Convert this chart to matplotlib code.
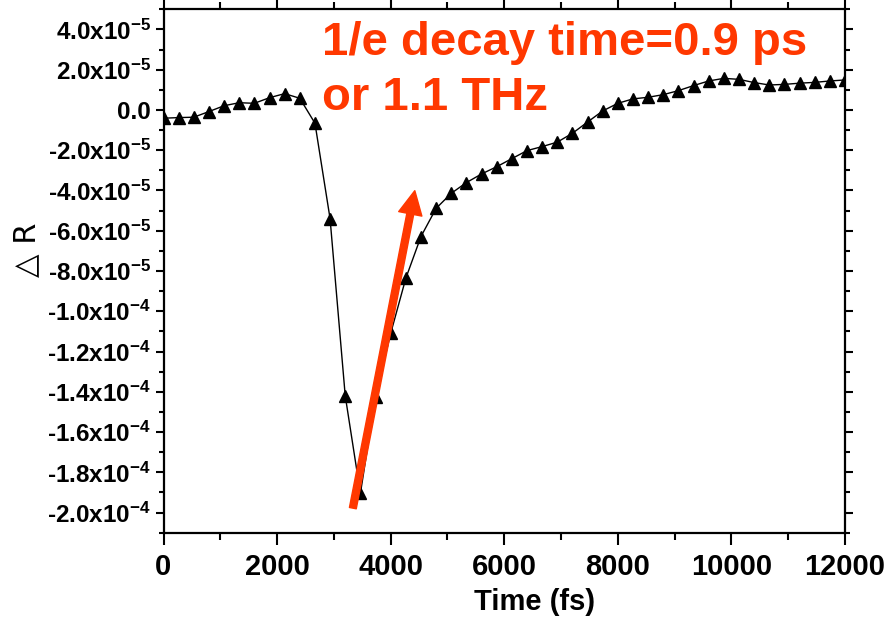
import matplotlib
matplotlib.use("Agg")
import matplotlib.pyplot as plt
from matplotlib.ticker import MultipleLocator

# Pump-probe transient reflectivity trace
time_fs = [0, 267, 533, 800, 1067, 1333, 1600, 1867, 2133, 2400,
           2667, 2933, 3200, 3467, 3733, 4000, 4267, 4533, 4800, 5067,
           5333, 5600, 5867, 6133, 6400, 6667, 6933, 7200, 7467, 7733,
           8000, 8267, 8533, 8800, 9067, 9333, 9600, 9867, 10133, 10400,
           10667, 10933, 11200, 11467, 11733, 12000]
delta_r = [-0.41e-5, -0.38e-5, -0.36e-5, -0.08e-5, 0.21e-5, 0.36e-5, 0.33e-5, 0.61e-5, 0.81e-5, 0.58e-5,
           -0.66e-5, -5.4e-5, -14.2e-5, -19.05e-5, -14.25e-5, -11.1e-5, -8.36e-5, -6.29e-5, -4.89e-5, -4.14e-5,
           -3.61e-5, -3.18e-5, -2.82e-5, -2.42e-5, -2.02e-5, -1.82e-5, -1.6e-5, -1.16e-5, -0.6e-5, -0.05e-5,
           0.33e-5, 0.55e-5, 0.63e-5, 0.76e-5, 0.96e-5, 1.21e-5, 1.44e-5, 1.57e-5, 1.52e-5, 1.36e-5,
           1.24e-5, 1.27e-5, 1.33e-5, 1.37e-5, 1.44e-5, 1.49e-5]

x_ticks = [0, 2000, 4000, 6000, 8000, 10000, 12000]
y_ticks = [4e-5, 2e-5, 0.0, -2e-5, -4e-5, -6e-5, -8e-5, -1.0e-4, -1.2e-4, -1.4e-4,
           -1.6e-4, -1.8e-4, -2.0e-4]
y_tick_labels = ["4.0x10$^{-5}$", "2.0x10$^{-5}$", "0.0", "-2.0x10$^{-5}$", "-4.0x10$^{-5}$",
                 "-6.0x10$^{-5}$", "-8.0x10$^{-5}$", "-1.0x10$^{-4}$", "-1.2x10$^{-4}$",
                 "-1.4x10$^{-4}$", "-1.6x10$^{-4}$", "-1.8x10$^{-4}$", "-2.0x10$^{-4}$"]

arrow_start = (3334, -19.78e-5)
arrow_end = (4425, -4.01e-5)
note_lines = ["1/e decay time=0.9 ps", "or 1.1 THz"]

plt.rcParams["mathtext.fontset"] = "custom"
plt.rcParams["mathtext.bf"] = "Liberation Sans:bold"
plt.rcParams["mathtext.rm"] = "Liberation Sans:bold"
plt.rcParams["mathtext.default"] = "bf"

red = "#ff3800"

fig = plt.figure(figsize=(8.9, 6.19), dpi=100)
ax = fig.add_axes([163.5 / 890, 1 - 532.7 / 619, (845 - 163.5) / 890, (532.7 - 9.3) / 619])

ax.plot(time_fs, delta_r, color="black", lw=1.0, marker="^", ms=9,
        markerfacecolor="black", markeredgecolor="black", zorder=3)

ax.set_xlim(0, 12000)
ax.set_ylim(-2.1e-4, 5e-5)

ax.set_xticks(x_ticks)
ax.set_xticklabels([str(v) for v in x_ticks], fontfamily="Liberation Sans",
                   fontweight="bold", fontsize=21)
ax.xaxis.set_minor_locator(MultipleLocator(1000))
ax.set_yticks(y_ticks)
ax.set_yticklabels(y_tick_labels, fontfamily="Liberation Sans", fontweight="bold", fontsize=17.5)
ax.yaxis.set_minor_locator(MultipleLocator(1e-5))

for s in ax.spines.values():
    s.set_linewidth(1.6)
ax.tick_params(axis="both", which="both", direction="out", width=1.5,
               top=True, right=True, colors="black")
ax.tick_params(axis="x", which="major", length=8.5, pad=6)
ax.tick_params(axis="x", which="minor", length=5)
ax.tick_params(axis="y", which="major", length=6, pad=3)
ax.tick_params(axis="y", which="minor", length=3.5)

ax.set_xlabel("Time (fs)", fontfamily="Liberation Sans", fontweight="bold", fontsize=21)
ax.xaxis.set_label_coords(0.545, -0.105)
ax.set_ylabel("\u25b3 R", family=["DejaVu Sans"], fontsize=22)
ax.yaxis.set_label_coords(-0.18, 0.54)

ax.annotate("", xy=arrow_end, xytext=arrow_start,
            arrowprops=dict(facecolor=red, edgecolor=red, width=5, headwidth=17,
                            headlength=17, shrink=0.0), zorder=4)

fig.text(322 / 890, 1 - 55 / 619, note_lines[0], color=red, fontsize=34,
         fontfamily="Liberation Sans", fontweight="bold", va="baseline", ha="left")
fig.text(322 / 890, 1 - 110 / 619, note_lines[1], color=red, fontsize=34,
         fontfamily="Liberation Sans", fontweight="bold", va="baseline", ha="left")

fig.savefig("out.png", dpi=100)
